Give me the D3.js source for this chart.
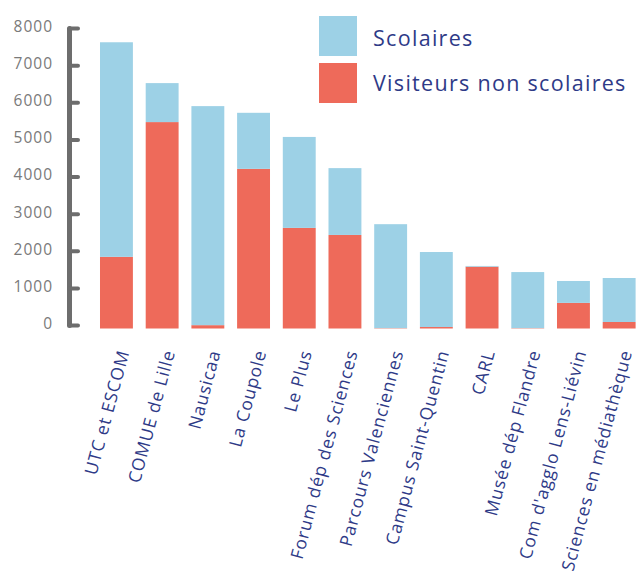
<!DOCTYPE html>
<html>
<head>
<meta charset="utf-8">
<script src="https://cdn.jsdelivr.net/npm/d3@7"></script>
<style>
  body { margin: 0; background: #fff; }
  svg text { font-family: "Open Sans", "DejaVu Sans", sans-serif; }
</style>
</head>
<body>
<div id="chart"></div>
<script>
// lieux
var categories = ['UTC et ESCOM', 'COMUE de Lille', 'Nausicaa', 'La Coupole', 'Le Plus',
  'Forum dép des Sciences', 'Parcours Valenciennes', 'Campus Saint-Quentin', 'CARL',
  'Musée dép Flandre', "Com d'agglo Lens-Liévin", 'Sciences en médiathèque'];
// visiteurs non scolaires (rouge, en bas)
var nonScolaires = [1930, 5560, 90, 4300, 2710, 2520, 10, 40, 1665, 10, 690, 175];
// scolaires (bleu, au dessus)
var scolaires = [5780, 1050, 5900, 1510, 2450, 1800, 2800, 2020, 20, 1510, 590, 1185];
var yTicks = [0, 1000, 2000, 3000, 4000, 5000, 6000, 7000, 8000];
var legendLabels = ['Scolaires', 'Visiteurs non scolaires'];

var colors = { scol: '#9dd1e6', non: '#ee6a5a', axis: '#6d6d6d', tick: '#7a7a7a', text: '#2e3a87' };

var width = 637, height = 576;
var svg = d3.select('#chart').append('svg').attr('width', width).attr('height', height);

var x = d3.scaleBand().domain(categories).range([93.6, 642]).paddingInner(0.28).paddingOuter(0.14);
var y = d3.scaleLinear().domain([0, 8000]).range([328.5, 31.5]);

// bars - red at bottom, blue stacked on top
var rows = categories.map(function (c, i) {
  return { cat: c, non: nonScolaires[i], scol: scolaires[i] };
});
svg.append('g').selectAll('rect').data(rows).enter().append('rect')
  .attr('x', function (d) { return x(d.cat); })
  .attr('width', x.bandwidth())
  .attr('y', function (d) { return y(d.non); })
  .attr('height', function (d) { return y(0) - y(d.non); })
  .attr('fill', colors.non);
svg.append('g').selectAll('rect').data(rows).enter().append('rect')
  .attr('x', function (d) { return x(d.cat); })
  .attr('width', x.bandwidth())
  .attr('y', function (d) { return y(d.non + d.scol); })
  .attr('height', function (d) { return y(d.non) - y(d.non + d.scol); })
  .attr('fill', colors.scol);

// axe y (ticks a bit above the bar baseline, like the original)
var ax = svg.append('g');
ax.append('line')
  .attr('x1', 69.5).attr('x2', 69.5)
  .attr('y1', y(8000) - 3).attr('y2', y(0) - 3)
  .attr('stroke', colors.axis).attr('stroke-width', 5).attr('stroke-linecap', 'round');
ax.selectAll('.tk').data(yTicks).enter().append('line')
  .attr('x1', 69.5).attr('x2', 78)
  .attr('y1', function (d) { return y(d) - 3; })
  .attr('y2', function (d) { return y(d) - 3; })
  .attr('stroke', colors.axis).attr('stroke-width', 4).attr('stroke-linecap', 'round');
ax.selectAll('text').data(yTicks).enter().append('text')
  .attr('x', 53).attr('y', function (d) { return y(d) - 5; })
  .attr('dy', '0.35em')
  .attr('text-anchor', 'end')
  .attr('fill', colors.tick)
  .style('font-size', '15.5px')
  .style('letter-spacing', '1px')
  .text(function (d) { return d; });

// labels inclinés
svg.append('g').selectAll('text').data(categories).enter().append('text')
  .attr('transform', function (d) {
    return 'translate(' + (x(d) + x.bandwidth() / 2 + 13) + ',352) rotate(-75)';
  })
  .attr('text-anchor', 'end')
  .attr('fill', colors.text)
  .style('font-size', '17.5px')
  .style('letter-spacing', '0.85px')
  .text(function (d) { return d; });

// légende
var leg = svg.append('g');
[colors.scol, colors.non].forEach(function (c, i) {
  leg.append('rect').attr('x', 319).attr('y', 16 + i * 47).attr('width', 38).attr('height', 40).attr('fill', c);
  leg.append('text').attr('x', 373).attr('y', 46 + i * 45)
    .attr('fill', colors.text).style('font-size', '21.5px')
    .style('letter-spacing', '1.3px')
    .text(legendLabels[i]);
});
</script>
</body>
</html>
